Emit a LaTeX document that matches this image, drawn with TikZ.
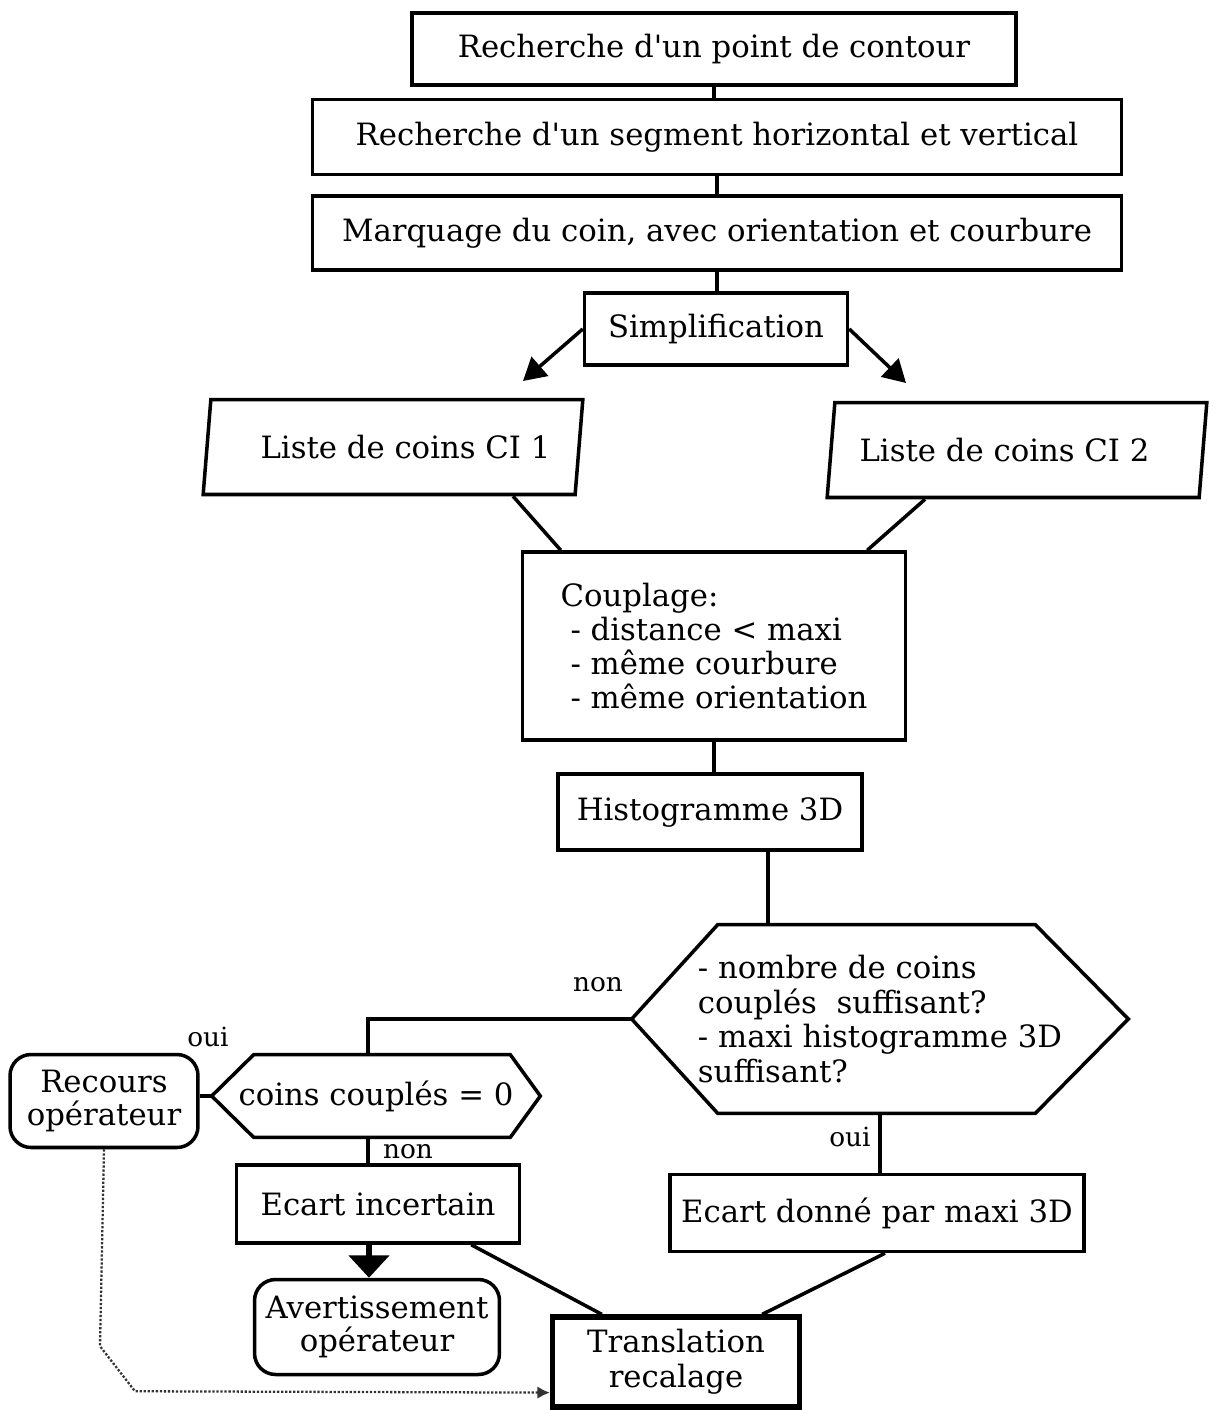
\documentclass[tikz,border=0pt]{standalone}
\usepackage{fontspec}
\setmainfont{DejaVu Serif}[Ligatures=TeXOff]
\usetikzlibrary{arrows.meta, positioning, calc, shapes.geometric}

\begin{document}
\begin{tikzpicture}[
    x=0.02cm, y=-0.02cm,
    % Process step: plain rectangle
    box/.style={
        rectangle, draw=black, line width=2pt, inner sep=2pt,
        align=center, font=\fontsize{17.5}{20}\selectfont
    },
    % Corner list: parallelogram
    liste/.style={
        trapezium, trapezium left angle=79, trapezium right angle=101,
        trapezium stretches=true, draw=black, line width=2pt,
        minimum width=7.6cm, minimum height=1.9cm,
        font=\fontsize{17.5}{20}\selectfont
    },
    % Operator message: rounded box
    msg/.style={
        rectangle, rounded corners=12pt, draw=black, line width=2pt,
        inner sep=2pt, align=center, font=\fontsize{17.5}{19}\selectfont
    },
    % Text of a test (hexagon drawn around it)
    test/.style={
        inner sep=0pt, align=left, font=\fontsize{17.5}{19.6}\selectfont
    },
    % Branch label
    lbl/.style={font=\fontsize{15}{17}\selectfont, inner sep=0pt},
    % Connectors
    link/.style={line width=2pt, black},
    arr/.style={link, -{Triangle[length=4.5mm, width=5mm]}},
    bigarr/.style={line width=3pt, -{Triangle[length=4.5mm, width=8mm]}},
    dots/.style={line width=1.3pt, densely dotted, black!80,
        -{Latex[length=2.5mm, width=2.5mm]}},
]
\useasboundingbox (0,0) rectangle (1215,1410);

% ============================================================
% CORNER EXTRACTION
% ============================================================
\node[box, minimum width=12.08cm, minimum height=1.44cm] (pt)
    at (714,49) {Recherche d'un point de contour};
\node[box, minimum width=16.18cm, minimum height=1.5cm] (seg)
    at (717,137) {Recherche d'un segment horizontal et vertical};
\node[box, minimum width=16.18cm, minimum height=1.48cm] (mark)
    at (717,233) {Marquage du coin, avec orientation et courbure};
\node[box, minimum width=5.26cm, minimum height=1.44cm] (simp)
    at (716,329) {Simplification};

\draw[link] (pt.south)   -- (pt.south |- seg.north);
\draw[link] (seg.south)  -- (seg.south |- mark.north);
\draw[link] (mark.south) -- (mark.south |- simp.north);

% Split into the two lists
\coordinate (tipL) at (523,381);
\coordinate (tipR) at (906,383);
\draw[arr] (simp.west) -- (tipL);
\draw[arr] (simp.east) -- (tipR);

% ============================================================
% LISTS AND MATCHING
% ============================================================
\node[liste] (ci1) at (393,447) {\hspace*{0.5cm}Liste de coins CI 1};
\node[liste] (ci2) at (1017,450) {Liste de coins CI 2\hspace*{0.5cm}};

\node[box, minimum width=7.66cm, minimum height=3.76cm,
      align=left, font=\fontsize{17.5}{19.4}\selectfont] (coupl) at (714,646)
    {Couplage:\\
     \hspace*{0.2cm}- distance < maxi\\
     \hspace*{0.2cm}- même courbure\\
     \hspace*{0.2cm}- même orientation};

\draw[link] ($(ci1.south)+(120,0)$) -- ($(coupl.north west)+(40,0)$);
\draw[link] ($(ci2.south)+(-92,0)$) -- ($(coupl.north east)+(-40,0)$);

\node[box, minimum width=6.08cm, minimum height=1.52cm] (histo)
    at (710,812) {Histogramme 3D};
\draw[link] (coupl.south) -- (coupl.south |- histo.north);

% ============================================================
% TESTS
% ============================================================
\node[test, minimum width=9.92cm, minimum height=3.76cm] (qA) at (880,1019)
    {- nombre de coins\\
     couplés \ suffisant?\\
     - maxi histogramme 3D\\
     suffisant?};
\draw[link] (qA.west) -- ($(qA.north west)+(86,0)$)
    -- ($(qA.north east)+(-93,0)$) -- (qA.east)
    -- ($(qA.south east)+(-93,0)$) -- ($(qA.south west)+(86,0)$) -- cycle;

\coordinate (hdown) at ($(histo.south)+(58,0)$);
\draw[link] (hdown) -- (hdown |- qA.north);

\node[test, minimum width=6.56cm, minimum height=1.64cm] (qB) at (376,1096)
    {coins couplés = 0};
\draw[link] (qB.west) -- ($(qB.north west)+(42,0)$)
    -- ($(qB.north east)+(-30,0)$) -- (qB.east)
    -- ($(qB.south east)+(-30,0)$) -- ($(qB.south west)+(42,0)$) -- cycle;

\draw[link] (qA.west) -| ([xshift=-0.16cm]qB.north);
\node[lbl] (nonA) at (598,985) {non};

\node[msg, minimum width=3.76cm, minimum height=1.86cm] (recours)
    at (104,1101) {Recours\\opérateur};
\draw[link] (qB.west) -- (qB.west -| recours.east);
\node[lbl] (ouiB) at (208,1037) {oui};

% ============================================================
% RESULTS
% ============================================================
\node[box, minimum width=5.66cm, minimum height=1.56cm] (ecart1)
    at (378,1204) {Ecart incertain};
\draw[link] ([xshift=-0.16cm]qB.south) -- ([xshift=-0.16cm]qB.south |- ecart1.north);
\node[lbl] (nonB) at (408,1152) {non};

\node[msg, minimum width=4.9cm, minimum height=1.9cm] (avert)
    at (377,1327) {Avertissement\\opérateur};
\coordinate (edown) at ([xshift=-0.18cm]ecart1.south);
\draw[bigarr] (edown) -- (edown |- avert.north);

\node[box, minimum width=8.28cm, minimum height=1.54cm] (ecart2)
    at (877,1213) {Ecart donné par maxi 3D};
\draw[link] (qA.south) -- (qA.south |- ecart2.north);
\node[lbl] (ouiA) at (850,1137) {oui};

\node[box, line width=3pt, minimum width=4.94cm, minimum height=1.8cm] (transl)
    at (676,1362) {Translation\\recalage};

\draw[link] ($(ecart1.south east)+(-50,0)$) -- ($(transl.north west)+(52,0)$);
\draw[link] ($(ecart2.south)+(8,0)$) -- ($(transl.north east)+(-40,0)$);

% Operator fallback (dotted)
\draw[dots] (recours.south) -- ++(-4,197) -- ++(35,45)
    -- ($(transl.south west)+(0,-17)$);

\end{tikzpicture}
\end{document}
